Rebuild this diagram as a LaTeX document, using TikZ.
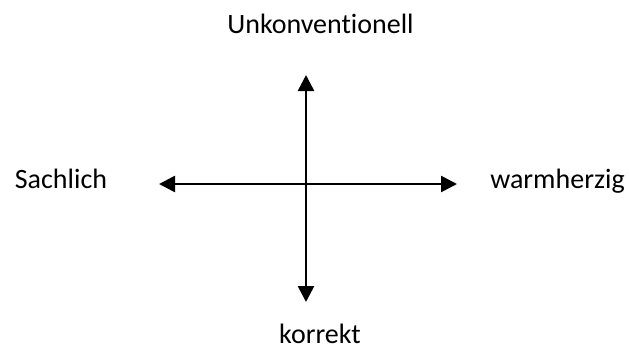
\documentclass[tikz,border=0pt]{standalone}
\usepackage{fontspec}
\setmainfont{Carlito}[Ligatures=NoCommon]
\usepackage{tikz}
\usetikzlibrary{arrows.meta}

\begin{document}
\begin{tikzpicture}[
    x=1pt,y=-1pt,
    pole/.style={inner sep=0pt,anchor=base,font=\fontsize{28pt}{32pt}\selectfont},
    axis/.style={{Triangle[length=16pt,width=16pt]}-{Triangle[length=16pt,width=16pt]},line width=2.6pt,black}
]
\useasboundingbox (0,0) rectangle (629,349);
\coordinate (top) at (306,75);
\coordinate (bottom) at (306,302);
\coordinate (left) at (159,184);
\coordinate (right) at (457,184);
\node[pole] (unkonv) at (320.5,33) {Unkonventionell};
\node[pole] (korrekt) at (320,343) {korrekt};
\node[pole] (sachlich) at (61,188) {Sachlich};
\node[pole] (warm) at (557.5,188) {warmherzig};
\draw[axis] (top) -- (bottom);
\draw[axis] (left) -- (right);
\end{tikzpicture}
\end{document}
